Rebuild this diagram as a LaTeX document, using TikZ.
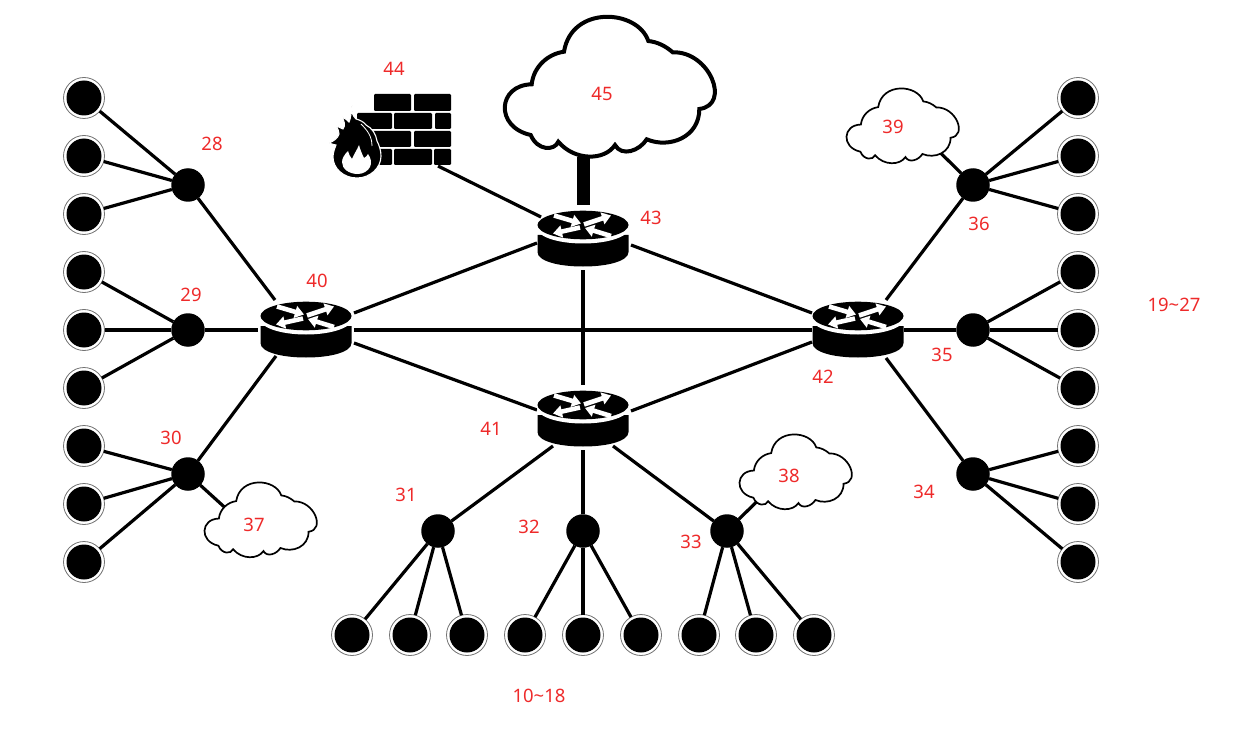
\documentclass[tikz,border=0pt]{standalone}
\usepackage{fontspec}
\setmainfont{Noto Sans}
\usetikzlibrary{calc,arrows.meta}
\definecolor{lab}{HTML}{EE2A2A}
\tikzset{
  wire/.style={line width=3.2pt,black},
  lab/.style={text=lab,font=\fontsize{18.5}{20}\selectfont,inner sep=0pt},
  hub/.style={circle,fill=black,minimum size=33.5pt,inner sep=0pt,outer sep=0pt},
  ringo/.style={circle,draw=black!55,line width=.8pt,fill=white,minimum size=41pt,inner sep=0pt,outer sep=0pt},
  routerbox/.style={rectangle,minimum width=92pt,minimum height=58pt,inner sep=0pt},
  cloudbox/.style={rectangle,inner sep=0pt},
  routerarrow/.style={white,line width=4.6pt,-{Triangle[width=12pt,length=9pt]}},
  pics/routericon/.style={code={
    \fill[black] (-45.5,-3) -- (-45.5,14) .. controls (-45.5,23) and (-25,28.5) .. (0,28.5)
       .. controls (25,28.5) and (45.5,23) .. (45.5,14) -- (45.5,-3) -- cycle;
    \fill[white] (0,-10) ellipse [x radius=46,y radius=15.5];
    \fill[black] (0,-13) ellipse [x radius=45.5,y radius=14.3];
    \draw[routerarrow] (-29,-22.5) -- (-2,-14.5);
    \draw[routerarrow] (1,-13.5) -- (28,-22.5);
    \draw[routerarrow] (-3,-10.5) -- (-30,-4.5);
    \draw[routerarrow] (28,-2) -- (2,-10);
  }},
  pics/cloudicon/.style={code={
    \draw[black,fill=white,line width=#1,line join=miter]
      (-77.8,-2.7) .. controls (-76,-20) and (-62,-33) .. (-45.5,-35.3)
      .. controls (-38,-82) and (28,-78) .. (38.8,-46)
      .. controls (48,-45) and (56,-41) .. (63.2,-34.7)
      .. controls (100,-36) and (122,18) .. (89.8,22)
      .. controls (90,50) and (60,62) .. (37.2,52.3)
      .. controls (30,64) and (12,70) .. (5.5,58)
      .. controls (-5,74) and (-35,74) .. (-51.2,54.7)
      .. controls (-55,64) and (-72,64) .. (-78.8,48)
      .. controls (-115,40) and (-112,-2) .. (-77.8,-2.7) -- cycle;
  }},
  pics/cloudicon/.default=4pt
}
\begin{document}
\begin{tikzpicture}[x=1pt,y=-1pt]
\useasboundingbox (0,0) rectangle (1245,730);
\node[routerbox] (r40) at (306,329) {};
\node[routerbox] (r41) at (583,418) {};
\node[routerbox] (r42) at (858,329) {};
\node[routerbox] (r43) at (583,238) {};
\node[cloudbox,minimum width=211pt,minimum height=140pt] (c45) at (609.5,87) {};
\node[cloudbox,minimum width=113pt,minimum height=74pt] (c37) at (260.5,520) {};
\node[cloudbox,minimum width=113pt,minimum height=74pt] (c38) at (795.5,472) {};
\node[cloudbox,minimum width=113pt,minimum height=74pt] (c39) at (902.5,126) {};
\node[cloudbox,minimum width=120pt,minimum height=75pt] (f44) at (392,130) {};
\foreach \n/\x/\y in {28/188/185,29/188/330,30/188/474,31/438/531,32/583/531,33/727/531,34/973/474,35/973/330,36/973/185}
  \node[hub] (h\n) at (\x,\y) {};
% router links
\draw[wire] ($(r40)+(48,-16)$) -- ($(r43)+(-46,5)$);
\draw[wire] ($(r40)+(48,14)$) -- ($(r41)+(-46,-8)$);
\draw[wire] ($(r43)+(48,7)$) -- ($(r42)+(-46,-16)$);
\draw[wire] ($(r41)+(48,-7)$) -- ($(r42)+(-46,13)$);
\draw[wire] ($(r43)+(0,32)$) -- ($(r41)+(0,-33)$);
\draw[wire] ($(r40)+(48,1)$) -- ($(r42)+(-46,1)$);
% router to hub
\draw[wire] (h28) -- ($(r40)+(-31,-29)$);
\draw[wire] (h29) -- ($(r40)+(-48,1)$);
\draw[wire] (h30) -- ($(r40)+(-30,27)$);
\draw[wire] (h36) -- ($(r42)+(28,-29)$);
\draw[wire] (h35) -- ($(r42)+(46,1)$);
\draw[wire] (h34) -- ($(r42)+(28,29)$);
\draw[wire] (h31) -- ($(r41)+(-30,28)$);
\draw[wire] (h32) -- ($(r41)+(0,32)$);
\draw[wire] (h33) -- ($(r41)+(30,28)$);
% clouds and firewall links
\draw[line width=13pt] (r43 |- c45.south) -- ($(r43)+(0,-33)$);
\draw[wire] ($(f44)+(46,36)$) -- ($(r43)+(-42,-21)$);
\draw[wire] (h30) -- ($(c37)+(-18,3.5)$);
\draw[wire] (h33) -- ($(c38)+(-26,17)$);
\draw[wire] (h36) -- ($(c39)+(23,12)$);
% leaves
\foreach \n/\h/\x/\y in {
  a/28/84/98,b/28/84/156,c/28/84/214,d/29/84/272,e/29/84/330,f/29/84/388,g/30/84/446,h/30/84/504,i/30/84/562,
  j/36/1078/98,k/36/1078/156,l/36/1078/214,m/35/1078/272,n/35/1078/330,o/35/1078/388,p/34/1078/446,q/34/1078/504,r/34/1078/562,
  s/31/352/635,t/31/410/635,u/31/467/635,v/32/525/635,w/32/583/635,x/32/641/635,y/33/699/635,z/33/756/635,zz/33/814/635}{
  \node[ringo] (o\n) at (\x,\y) {};
  \draw[wire] (h\h) -- (o\n);
  \fill[black] (\x,\y) circle [radius=17.5];
}
% routers
\foreach \n in {40,41,42,43}
  \pic at (r\n) {routericon};
% clouds
\pic at (c45) {cloudicon=4pt};
\pic[scale=.535] at (c37) {cloudicon=1.7pt};
\pic[scale=.535] at (c38) {cloudicon=1.7pt};
\pic[scale=.535] at (c39) {cloudicon=1.7pt};
% firewall
\begin{scope}[shift={(f44.center)},shift={(-392,-130)}]
\foreach \a/\b/\c/\d in {374/94/411/111,414/94/451/111,357/113/392/129,394/113/432/129,435/113/451/129,
   370/131/411/147,414/131/451/147,370/149/392/165,394/149/432/165,434/149/451/165}
  \fill[black,rounded corners=1.2pt] (\a,\b) rectangle (\c,\d);
\path[fill=black,draw=white,line width=1.1pt]
  (352,106) .. controls (351,112) and (353,116) .. (356,119)
  .. controls (360,120) and (364,122) .. (366,125)
  .. controls (372,128) and (376,134) .. (377,141)
  .. controls (379,145) and (381,150) .. (381,156)
  .. controls (381,168) and (370,178) .. (357,178)
  .. controls (343,178) and (333,168) .. (333,157)
  .. controls (333,152) and (335,148) .. (336,145)
  .. controls (334,145) and (332,144) .. (329,143)
  .. controls (334,141) and (338,138) .. (339,134)
  .. controls (339,131) and (338,129) .. (336,126)
  .. controls (339,127) and (341,128) .. (343,129)
  .. controls (346,125) and (344,121) .. (342,117)
  .. controls (345,118) and (347,120) .. (349,122)
  .. controls (351,118) and (351,112) .. (352,106) -- cycle;
\draw[white,line width=.8pt] (361,124) .. controls (367,130) and (372,136) .. (372,146);
\fill[white] (358,174) .. controls (349,174) and (342,169) .. (342,162)
  .. controls (342,158) and (345,154) .. (348,151)
  .. controls (349,154) and (350,157) .. (352,159)
  .. controls (354,154) and (357,150) .. (359,145)
  .. controls (360,149) and (362,154) .. (364,158)
  .. controls (366,157) and (367,156) .. (368,154)
  .. controls (371,158) and (372,163) .. (370,167)
  .. controls (368,171) and (363,174) .. (358,174) -- cycle;
\end{scope}
% labels
\foreach \t/\x/\y in {28/212/144,29/191/295,30/171/438,31/406/495,32/529/527,33/691/542,34/924/492,35/942/355,36/979/224,
  37/254/525,38/789/476,39/893/127,40/317/281,41/491/429,42/823/377,43/651/218,44/394/69,45/602/94,19\textasciitilde27/1174/305,10\textasciitilde18/539/696}
  \node[lab] (t\x) at (\x,\y) {\t};
\end{tikzpicture}
\end{document}
